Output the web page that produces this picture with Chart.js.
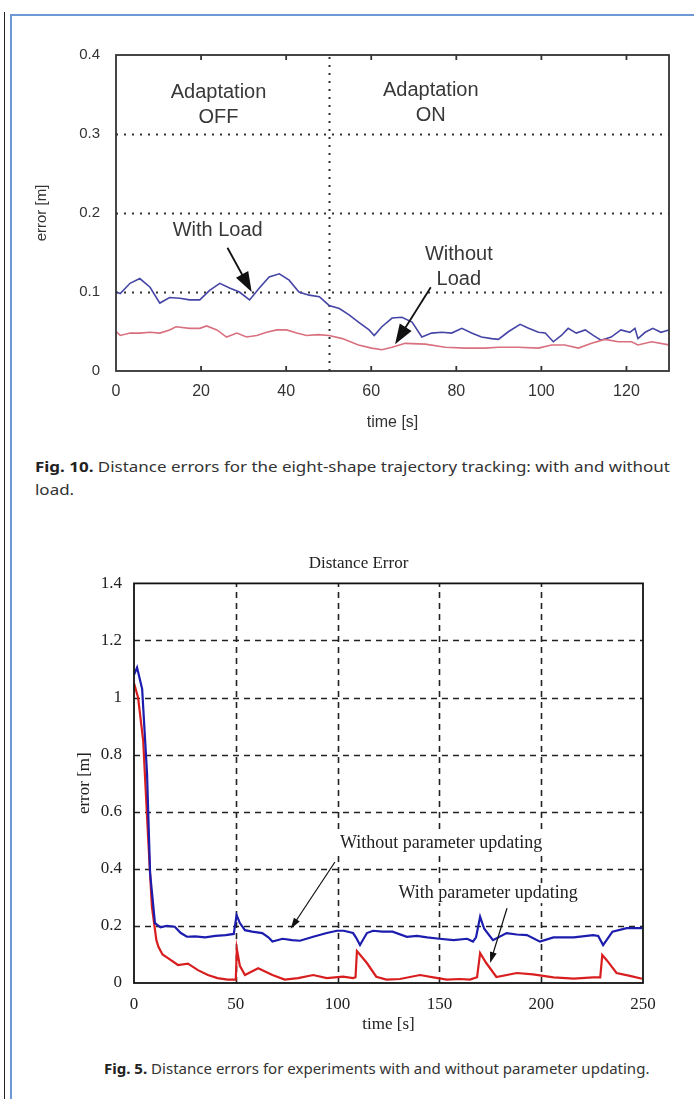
<!DOCTYPE html>
<html>
<head>
<meta charset="utf-8">
<script src="https://cdn.jsdelivr.net/npm/chart.js@4/dist/chart.umd.min.js"></script>
<style>
  body { margin:0; background:#fff; width:694px; height:1099px; position:relative; overflow:hidden; }
  canvas { position:absolute; left:0; }
  .rule { position:absolute; }
  .cap { position:absolute; font-family:"Noto Sans", sans-serif; font-size:15px; color:#333; white-space:nowrap; transform-origin:0 50%; }
  .cap b { color:#222; }
</style>
</head>
<body>
<div class="rule" style="left:4px;top:12px;width:1px;height:1087px;background:#222"></div>
<div class="rule" style="left:10px;top:14px;width:684px;height:2px;background:#6d9ad6"></div>
<div class="rule" style="left:10px;top:14px;width:2px;height:1085px;background:#6d9ad6"></div>

<canvas id="fig10" width="694" height="410" style="top:30px"></canvas>
<div class="cap" id="cap10" data-w="635" style="left:35px;top:456px"><b>Fig. 10.</b> Distance errors for the eight-shape trajectory tracking: with and without</div>
<div class="cap" id="cap10b" style="left:35px;top:479px">load.</div>

<canvas id="fig5" width="694" height="500" style="top:540px"></canvas>
<div class="cap" data-w="545" style="left:104px;top:1058px"><b>Fig. 5.</b> Distance errors for experiments with and without parameter updating.</div>

<script>
// ------------------- Fig. 10 data -------------------
const xTicks1 = [0, 20, 40, 60, 80, 100, 120];
const yTicks1 = [0, 0.1, 0.2, 0.3, 0.4];

const tWithLoad = [0, 1, 3.3, 5.6, 8, 10.3, 12.6, 15, 17.3, 19.7, 22, 24.4, 26.7, 29, 31.4, 33.7, 36, 38.4, 40.7, 43,
  45.4, 47.8, 50.1, 52.5, 54.8, 57, 59.5, 60.7, 62.5, 64.9, 67.2, 69.6, 71.9, 74.2, 76.6, 78.9, 81.3, 83.6, 85.9, 88.3,
  89.9, 92.3, 95, 97, 99.3, 100.9, 102.8, 104.7, 106.3, 108.2, 110.3, 112.2, 114, 116.4, 118.7, 120.8, 122, 122.7, 124.4, 126.2,
  128.1, 130];
const withLoad = [0.100, 0.098, 0.111, 0.117, 0.106, 0.086, 0.093, 0.092, 0.090, 0.090, 0.102, 0.111, 0.105, 0.100, 0.090, 0.105, 0.119, 0.123, 0.115, 0.100,
  0.096, 0.094, 0.083, 0.079, 0.071, 0.062, 0.052, 0.045, 0.056, 0.067, 0.068, 0.062, 0.043, 0.048, 0.049, 0.048, 0.054, 0.048, 0.043, 0.041,
  0.040, 0.050, 0.059, 0.054, 0.049, 0.048, 0.037, 0.045, 0.054, 0.048, 0.052, 0.045, 0.039, 0.043, 0.052, 0.049, 0.054, 0.041, 0.049, 0.054,
  0.049, 0.052];

const tWithoutLoad = [0, 1, 3.3, 5.6, 8, 10.3, 12.6, 14.1, 17.3, 19.7, 21.3, 23.7, 26, 28.4, 30.7, 33.1, 35.4, 37.8, 40.1, 42.5,
  44.8, 47.5, 50.1, 53.2, 57, 60.1, 62.5, 64.9, 68, 72.7, 77.4, 82.1, 86.7, 89.9, 94.6, 99.3, 102.4, 105.5, 108.7, 111.8,
  114.9, 118.1, 121.2, 122.7, 125.9, 130];
const withoutLoad = [0.050, 0.045, 0.048, 0.048, 0.049, 0.048, 0.052, 0.056, 0.054, 0.054, 0.057, 0.052, 0.043, 0.048, 0.043, 0.045, 0.049, 0.052, 0.052, 0.048,
  0.045, 0.046, 0.045, 0.041, 0.033, 0.029, 0.027, 0.030, 0.035, 0.034, 0.030, 0.029, 0.029, 0.030, 0.030, 0.029, 0.033, 0.033, 0.029, 0.035,
  0.040, 0.037, 0.037, 0.033, 0.037, 0.033];

// ------------------- Fig. 5 data -------------------
const xTicks2 = [0, 50, 100, 150, 200, 250];
const yTicks2 = [0, 0.2, 0.4, 0.6, 0.8, 1, 1.2, 1.4];

const tNoUpdate = [0, 1.5, 4, 6.4, 7.9, 10.3, 13, 16, 20, 23, 26, 30, 35, 40, 45, 49, 50.4, 52, 54.5, 58,
  63, 66, 68, 73, 77.6, 81.5, 88, 94.7, 99.7, 103, 107.6, 109, 111, 114.4, 117.4, 122, 127, 134, 139, 144,
  150, 157, 163.6, 166.5, 168, 170, 172, 176.3, 183, 188, 193, 199.4, 206, 216, 225.5, 228, 230.4, 235, 242, 249.5];
const noUpdate = [1.08, 1.105, 1.03, 0.735, 0.385, 0.21, 0.195, 0.2, 0.197, 0.175, 0.162, 0.163, 0.16, 0.165, 0.168, 0.172, 0.238, 0.21, 0.185, 0.18,
  0.175, 0.16, 0.145, 0.155, 0.15, 0.148, 0.162, 0.175, 0.183, 0.183, 0.175, 0.16, 0.133, 0.175, 0.183, 0.18, 0.18, 0.162, 0.165, 0.16,
  0.155, 0.15, 0.155, 0.145, 0.16, 0.232, 0.19, 0.15, 0.175, 0.17, 0.168, 0.145, 0.16, 0.16, 0.168, 0.165, 0.133, 0.18, 0.192, 0.192];

const tUpdate = [0, 2, 4.5, 7, 8.8, 11, 12, 14, 16.7, 21.6, 26.5, 31.4, 36.3, 41, 46, 50, 50.5, 52, 54.5, 61,
  68, 74, 80.6, 88, 94.7, 102.7, 107.6, 108.8, 109.5, 114.4, 119, 124, 130.6, 140.5, 147, 153.7, 160, 165, 168.5, 170,
  173, 178, 188, 196, 206, 216, 225.5, 229, 230, 232.2, 237, 243.6, 249.5];
const withUpdate = [1.05, 1.0, 0.85, 0.5, 0.267, 0.15, 0.127, 0.1, 0.087, 0.063, 0.068, 0.045, 0.028, 0.017, 0.012, 0.012, 0.12, 0.06, 0.028, 0.052,
  0.028, 0.012, 0.017, 0.028, 0.017, 0.022, 0.017, 0.02, 0.112, 0.07, 0.022, 0.012, 0.014, 0.028, 0.02, 0.012, 0.014, 0.012, 0.02, 0.105,
  0.07, 0.021, 0.035, 0.03, 0.02, 0.015, 0.02, 0.02, 0.098, 0.08, 0.035, 0.025, 0.015];

const pts = (ts, vs) => ts.map((t, i) => ({x: t, y: vs[i]}));

// ------------------- decoration plugin (grid, frame, notes) -------------------
function line(ctx, x1, y1, x2, y2){
  ctx.beginPath(); ctx.moveTo(x1, y1); ctx.lineTo(x2, y2); ctx.stroke();
}

function arrow(ctx, x1, y1, x2, y2, len, wid, color, lw){
  const ang = Math.atan2(y2 - y1, x2 - x1);
  ctx.strokeStyle = color; ctx.fillStyle = color; ctx.lineWidth = lw;
  line(ctx, x1, y1, x2 - Math.cos(ang) * len * 0.6, y2 - Math.sin(ang) * len * 0.6);
  ctx.beginPath();
  ctx.moveTo(x2, y2);
  ctx.lineTo(x2 - Math.cos(ang) * len + Math.sin(ang) * wid / 2, y2 - Math.sin(ang) * len - Math.cos(ang) * wid / 2);
  ctx.lineTo(x2 - Math.cos(ang) * len - Math.sin(ang) * wid / 2, y2 - Math.sin(ang) * len + Math.cos(ang) * wid / 2);
  ctx.closePath(); ctx.fill();
}

const decor = {
  id: 'decor',
  beforeDatasetsDraw(chart, args, o){
    const {ctx, chartArea: a, scales: {x, y}} = chart;
    ctx.save();
    ctx.strokeStyle = o.gridColor; ctx.lineWidth = o.gridWidth; ctx.setLineDash(o.dash);
    o.hGrid.forEach(v => { const py = Math.round(y.getPixelForValue(v)) + 0.5; line(ctx, a.left, py, a.right, py); });
    o.vGrid.forEach(v => { const px = Math.round(x.getPixelForValue(v)) + 0.5; line(ctx, px, a.bottom, px, a.top); });
    ctx.restore();
  },
  afterDatasetsDraw(chart, args, o){
    const {ctx, chartArea: a, scales: {x, y}} = chart;
    ctx.save();
    ctx.strokeStyle = o.frameColor; ctx.lineWidth = o.frameWidth;
    ctx.strokeRect(a.left, a.top, a.right - a.left, a.bottom - a.top);
    if (o.tickLen){
      o.xMarks.forEach(v => {
        const px = x.getPixelForValue(v);
        line(ctx, px, a.bottom, px, a.bottom - o.tickLen);
        line(ctx, px, a.top, px, a.top + o.tickLen);
      });
    }
    ctx.font = o.textFont;
    ctx.textAlign = 'center'; ctx.textBaseline = 'middle';
    const pad = Number(o.patch) || 0;
    o.notes.forEach(n => {
      const cx = x.getPixelForValue(n.x), cy = y.getPixelForValue(n.y);
      n.lines.forEach((s, i) => {
        if (pad > 0){
          const w = ctx.measureText(s).width;
          ctx.fillStyle = '#ffffff';
          ctx.fillRect(cx - w / 2 - pad, cy + i * o.lineGap - 10, w + 2 * pad, 20);
        }
        ctx.fillStyle = o.textColor;
        ctx.fillText(s, cx, cy + i * o.lineGap);
      });
    });
    o.arrows.forEach(r => {
      arrow(ctx, x.getPixelForValue(r.x1), y.getPixelForValue(r.y1), x.getPixelForValue(r.x2), y.getPixelForValue(r.y2),
        o.headLen, o.headWid, o.arrowColor, o.arrowWidth);
    });
    ctx.restore();
  }
};

function axis(ticks, min, max, font, color, pad, size, title, fmt, horizontal){
  return {
    type: 'linear', min, max,
    grid: {display: false, drawTicks: false},
    border: {display: false},
    afterBuildTicks: s => { s.ticks = ticks.map(v => ({value: v})); },
    afterFit: s => { if (horizontal) s.height = size; else s.width = size; },
    ticks: {font, color, padding: pad, autoSkip: false, maxRotation: 0, callback: fmt},
    title: {display: true, text: title, font, color, padding: 0}
  };
}

// ------------------- Fig. 10 -------------------
const sans = {family: 'Liberation Sans', size: 16};
new Chart(document.getElementById('fig10'), {
  type: 'line',
  data: {
    datasets: [
      {data: pts(tWithoutLoad, withoutLoad), borderColor: '#d9707f', borderWidth: 1.6, pointRadius: 0, tension: 0},
      {data: pts(tWithLoad, withLoad), borderColor: '#4545a6', borderWidth: 1.6, pointRadius: 0, tension: 0}
    ]
  },
  plugins: [decor],
  options: {
    responsive: false, animation: false, devicePixelRatio: 1,
    layout: {padding: {left: 33, right: 25, top: 24, bottom: 8}},
    scales: {
      x: axis(xTicks1, 0, 130, sans, '#333', 11, 61, 'time [s]', v => String(v), true),
      y: axis(yTicks1, 0, 0.4, {family: 'Liberation Sans', size: 15}, '#333', 16, 83, 'error [m]', v => String(v), false)
    },
    plugins: {
      legend: {display: false}, tooltip: {enabled: false},
      decor: {
        gridColor: '#333', gridWidth: 2, dash: [2, 6],
        hGrid: [0.1, 0.2, 0.3], vGrid: [50], patch: 0,
        frameColor: '#333', frameWidth: 1.8, tickLen: 5, xMarks: [20, 40, 60, 80, 100, 120],
        textColor: '#383838', textFont: '20px "Liberation Sans"', lineGap: 25,
        notes: [
          {x: 24.1, y: 0.352, lines: ['Adaptation', 'OFF']},
          {x: 74, y: 0.355, lines: ['Adaptation', 'ON']},
          {x: 23.9, y: 0.178, lines: ['With Load']},
          {x: 80.6, y: 0.147, lines: ['Without', 'Load']}
        ],
        arrows: [
          {x1: 26.2, y1: 0.156, x2: 31.9, y2: 0.100},
          {x1: 74, y1: 0.106, x2: 65.6, y2: 0.034}
        ],
        headLen: 20, headWid: 14, arrowColor: '#111', arrowWidth: 1.8
      }
    }
  }
});

// ------------------- Fig. 5 -------------------
const serif = {family: 'Liberation Serif', size: 17};
new Chart(document.getElementById('fig5'), {
  type: 'line',
  data: {
    datasets: [
      {data: pts(tNoUpdate, noUpdate), borderColor: '#1c1cae', borderWidth: 2.2, pointRadius: 0, tension: 0},
      {data: pts(tUpdate, withUpdate), borderColor: '#d81e1e', borderWidth: 2.2, pointRadius: 0, tension: 0}
    ]
  },
  plugins: [decor],
  options: {
    responsive: false, animation: false, devicePixelRatio: 1,
    layout: {padding: {left: 74, right: 51, top: 0, bottom: 5}},
    scales: {
      x: axis(xTicks2, 0, 250, serif, '#222', 11, 52, 'time [s]', v => String(v), true),
      y: axis(yTicks2, 0, 1.4, serif, '#222', 12, 60, 'error [m]', v => String(Math.round(v * 10) / 10), false)
    },
    plugins: {
      legend: {display: false}, tooltip: {enabled: false},
      title: {display: true, text: 'Distance Error', font: {family: 'Liberation Serif', size: 17, weight: 'normal'},
        color: '#222', padding: {top: 13, bottom: 10}},
      decor: {
        gridColor: '#222', gridWidth: 1.6, dash: [6, 5],
        hGrid: [0.2, 0.4, 0.6, 0.8, 1, 1.2], vGrid: [50, 100, 150, 200], patch: 3,
        frameColor: '#111', frameWidth: 1.8, tickLen: 0, xMarks: [],
        textColor: '#222', textFont: '18px "Liberation Serif"', lineGap: 20,
        notes: [
          {x: 150.8, y: 0.49, lines: ['Without parameter updating']},
          {x: 173.9, y: 0.315, lines: ['With parameter updating']}
        ],
        arrows: [
          {x1: 98.7, y1: 0.424, x2: 77, y2: 0.19},
          {x1: 183.2, y1: 0.262, x2: 174.9, y2: 0.07}
        ],
        headLen: 11, headWid: 7, arrowColor: '#111', arrowWidth: 1.2
      }
    }
  }
});

// stretch caption lines to the printed width
let capScale = 1;
document.querySelectorAll('.cap[data-w]').forEach(el => {
  const k = Number(el.dataset.w) / el.scrollWidth;
  if (el.id === 'cap10') capScale = k;
  el.style.transform = 'scaleX(' + k + ')';
});
document.getElementById('cap10b').style.transform = 'scaleX(' + capScale + ')';
</script>
</body>
</html>
